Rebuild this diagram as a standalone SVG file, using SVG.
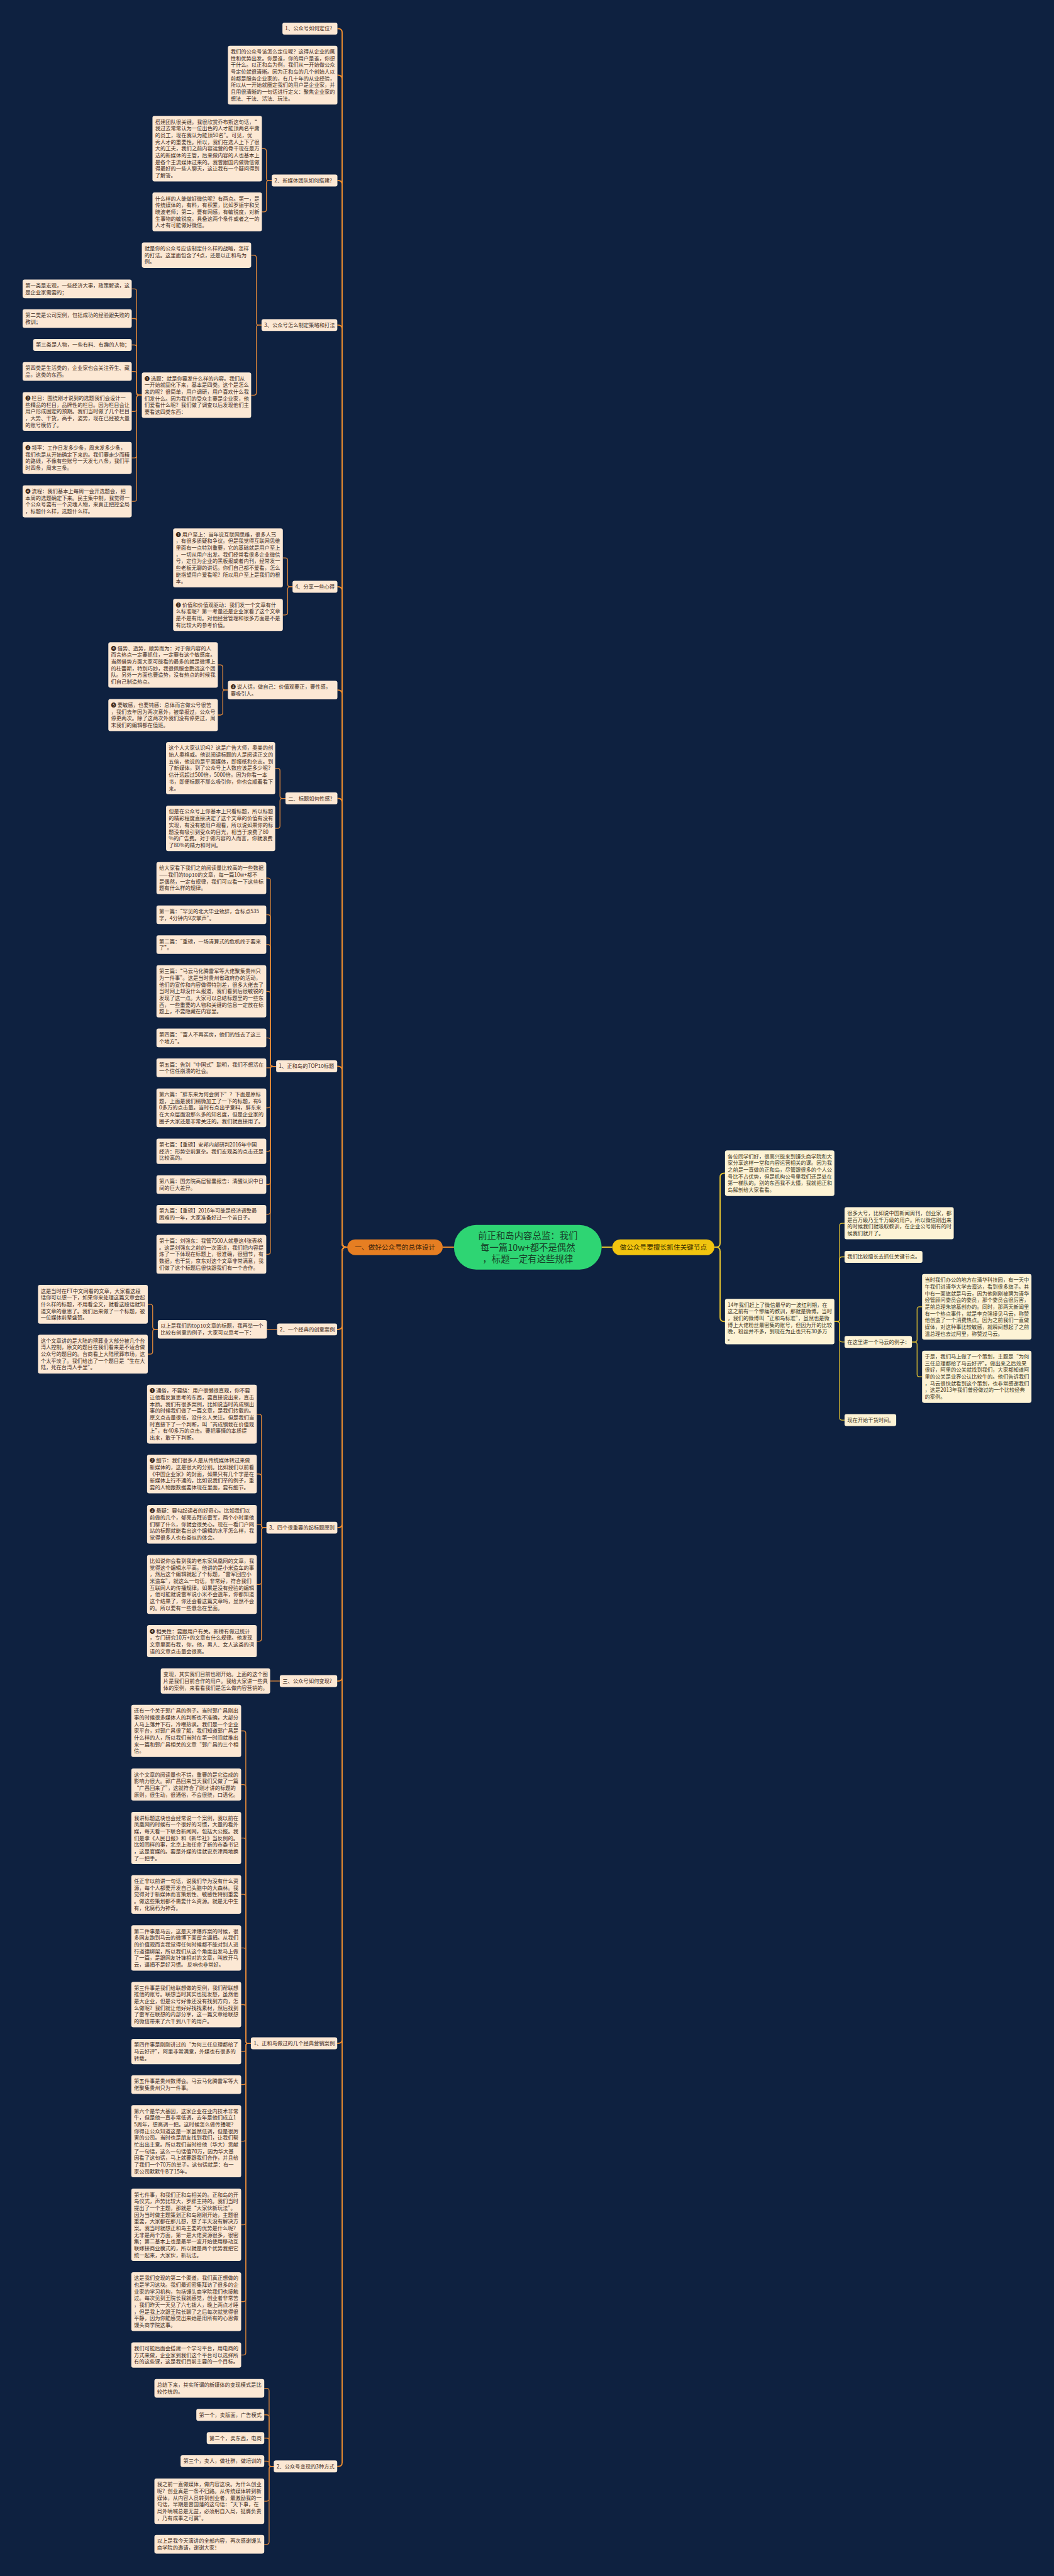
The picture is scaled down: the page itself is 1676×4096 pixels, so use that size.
<svg xmlns="http://www.w3.org/2000/svg" width="1676" height="4096" viewBox="0 0 1676 4096">
<style>
.all{font-family:"Noto Sans CJK SC","Noto Sans",sans-serif;font-size:12.7px}
.nl rect{fill:#fce8d4}
.nl text{fill:#3d2a1b}
.nr rect{fill:#fdf3d5}
.nr text{fill:#3b3322}
.cl{fill:none;stroke:#e0883a;stroke-width:2}
.ct{fill:none;stroke:#e68a30;stroke-width:3}
.cy{fill:none;stroke:#e3c230;stroke-width:2}
.cyt{fill:none;stroke:#e3c230;stroke-width:3}
</style>
<rect x="0" y="0" width="1676" height="4096" fill="#0e2140"/>
<g class="all" transform="scale(0.6547)">
<g id="connectors">
<path class="ct" d="M843.7 3029H841Q831 3029 831 3019V79.5Q831 69.5 821 69.5H819.5"/>
<path class="ct" d="M843.7 3029H841Q831 3029 831 3019V192.5Q831 182.5 821 182.5H819.5"/>
<path class="ct" d="M843.7 3029H841Q831 3029 831 3019V448.5Q831 438.5 821 438.5H819.5"/>
<path class="ct" d="M843.7 3029H841Q831 3029 831 3019V799.5Q831 789.5 821 789.5H819.2"/>
<path class="ct" d="M843.7 3029H841Q831 3029 831 3019V1435Q831 1425 821 1425H819.5"/>
<path class="ct" d="M843.7 3029H841Q831 3029 831 3019V1686Q831 1676 821 1676H819.5"/>
<path class="ct" d="M843.7 3029H841Q831 3029 831 3019V1949.2Q831 1939.2 821 1939.2H819.5"/>
<path class="ct" d="M843.7 3029H841Q831 3029 831 3019V2599.8Q831 2589.8 821 2589.8H819"/>
<path class="ct" d="M843.7 3029H841Q831 3029 831 3039V3218.8Q831 3228.8 821 3228.8H818.8"/>
<path class="ct" d="M843.7 3029H841Q831 3029 831 3039V3700.3Q831 3710.3 821 3710.3H819.3"/>
<path class="ct" d="M843.7 3029H841Q831 3029 831 3039V4072.8Q831 4082.8 821 4082.8H819"/>
<path class="ct" d="M843.7 3029H841Q831 3029 831 3039V4952.7Q831 4962.7 821 4962.7H819"/>
<path class="ct" d="M843.7 3029H841Q831 3029 831 3039V5980.3Q831 5990.3 821 5990.3H819"/>
<path class="ct" d="M1075.2 3029H1102.6"/>
<path class="cyt" d="M1461.3 3029H1487.2"/>
<path class="cyt" d="M1735 3029H1739Q1749 3029 1749 3019V2859.4Q1749 2849.4 1759 2849.4H1760.9"/>
<path class="cyt" d="M1735 3029H1739Q1749 3029 1749 3039V3199.6Q1749 3209.6 1759 3209.6H1760.9"/>
<path class="cl" d="M660 438.5H653Q647 438.5 647 432.5V367Q647 361 641 361H636.1"/>
<path class="cl" d="M660 438.5H653Q647 438.5 647 444.5V508.5Q647 514.5 641 514.5H636.1"/>
<path class="cl" d="M635.2 789.5H628.6Q622.6 789.5 622.6 783.5V625.8Q622.6 619.8 616.6 619.8H610"/>
<path class="cl" d="M635.2 789.5H628.6Q622.6 789.5 622.6 795.5V953.7Q622.6 959.7 616.6 959.7H610"/>
<path class="cl" d="M344.5 959.7H338Q332 959.7 332 953.7V707.6Q332 701.6 326 701.6H319.9"/>
<path class="cl" d="M344.5 959.7H338Q332 959.7 332 953.7V779.6Q332 773.6 326 773.6H319.9"/>
<path class="cl" d="M344.5 959.7H338Q332 959.7 332 953.7V843.8Q332 837.8 326 837.8H319.8"/>
<path class="cl" d="M344.5 959.7H338Q332 959.7 332 953.7V908.2Q332 902.2 326 902.2H319.9"/>
<path class="cl" d="M344.5 959.7H338Q332 959.7 332 965.7V993.3Q332 999.3 326 999.3H319.9"/>
<path class="cl" d="M344.5 959.7H338Q332 959.7 332 965.7V1106.2Q332 1112.2 326 1112.2H319.9"/>
<path class="cl" d="M344.5 959.7H338Q332 959.7 332 965.7V1211.6Q332 1217.6 326 1217.6H319.9"/>
<path class="cl" d="M710.5 1425H704.7Q698.7 1425 698.7 1419V1361Q698.7 1355 692.7 1355H687"/>
<path class="cl" d="M710.5 1425H704.7Q698.7 1425 698.7 1431V1487.5Q698.7 1493.5 692.7 1493.5H687"/>
<path class="cl" d="M553.5 1676H547Q541 1676 541 1670V1620.9Q541 1614.9 535 1614.9H529.1"/>
<path class="cl" d="M553.5 1676H547Q541 1676 541 1682V1730.7Q541 1736.7 535 1736.7H529.1"/>
<path class="cl" d="M693.3 1939.2H686Q680 1939.2 680 1933.2V1871.8Q680 1865.8 674 1865.8H668.4"/>
<path class="cl" d="M693.3 1939.2H686Q680 1939.2 680 1945.2V2005.9Q680 2011.9 674 2011.9H668.4"/>
<path class="cl" d="M670.7 2589.8H662.7Q656.7 2589.8 656.7 2583.8V2138.6Q656.7 2132.6 650.7 2132.6H646.7"/>
<path class="cl" d="M670.7 2589.8H662.7Q656.7 2589.8 656.7 2583.8V2227.6Q656.7 2221.6 650.7 2221.6H646.7"/>
<path class="cl" d="M670.7 2589.8H662.7Q656.7 2589.8 656.7 2583.8V2300.2Q656.7 2294.2 650.7 2294.2H646.7"/>
<path class="cl" d="M670.7 2589.8H662.7Q656.7 2589.8 656.7 2583.8V2413.7Q656.7 2407.7 650.7 2407.7H646.7"/>
<path class="cl" d="M670.7 2589.8H662.7Q656.7 2589.8 656.7 2583.8V2526.8Q656.7 2520.8 650.7 2520.8H646.7"/>
<path class="cl" d="M670.7 2589.8H658.5Q656.7 2589.8 656.7 2591.6Q656.7 2593.4 654.9 2593.4H646.7"/>
<path class="cl" d="M670.7 2589.8H662.7Q656.7 2589.8 656.7 2595.8V2684.5Q656.7 2690.5 650.7 2690.5H646.7"/>
<path class="cl" d="M670.7 2589.8H662.7Q656.7 2589.8 656.7 2595.8V2790.1Q656.7 2796.1 650.7 2796.1H646.7"/>
<path class="cl" d="M670.7 2589.8H662.7Q656.7 2589.8 656.7 2595.8V2870.9Q656.7 2876.9 650.7 2876.9H646.7"/>
<path class="cl" d="M670.7 2589.8H662.7Q656.7 2589.8 656.7 2595.8V2943.1Q656.7 2949.1 650.7 2949.1H646.7"/>
<path class="cl" d="M670.7 2589.8H662.7Q656.7 2589.8 656.7 2595.8V3040.2Q656.7 3046.2 650.7 3046.2H646.7"/>
<path class="cl" d="M673 3228.7H648.3"/>
<path class="cl" d="M383.3 3228.6H376.8Q370.8 3228.6 370.8 3222.6V3173.7Q370.8 3167.7 364.8 3167.7H359"/>
<path class="cl" d="M383.3 3228.6H376.8Q370.8 3228.6 370.8 3234.6V3282.7Q370.8 3288.7 364.8 3288.7H359"/>
<path class="cl" d="M647.1 3710.3H641Q635 3710.3 635 3704.3V3440.5Q635 3434.5 629 3434.5H623.7"/>
<path class="cl" d="M647.1 3710.3H641Q635 3710.3 635 3704.3V3585.9Q635 3579.9 629 3579.9H623.7"/>
<path class="cl" d="M647.1 3710.3H639.2Q635 3710.3 635 3706.2Q635 3702 630.8 3702H623.7"/>
<path class="cl" d="M647.1 3710.3H641Q635 3710.3 635 3716.3V3842.1Q635 3848.1 629 3848.1H623.7"/>
<path class="cl" d="M647.1 3710.3H641Q635 3710.3 635 3716.3V3979.9Q635 3985.9 629 3985.9H623.7"/>
<path class="cl" d="M679.6 4082.7H656.1"/>
<path class="cl" d="M609.3 4962.7H603Q597 4962.7 597 4956.7V4209.8Q597 4203.8 591 4203.8H585.7"/>
<path class="cl" d="M609.3 4962.7H603Q597 4962.7 597 4956.7V4340.1Q597 4334.1 591 4334.1H585.7"/>
<path class="cl" d="M609.3 4962.7H603Q597 4962.7 597 4956.7V4470Q597 4464 591 4464H585.7"/>
<path class="cl" d="M609.3 4962.7H603Q597 4962.7 597 4956.7V4606.9Q597 4600.9 591 4600.9H585.7"/>
<path class="cl" d="M609.3 4962.7H603Q597 4962.7 597 4956.7V4737Q597 4731 591 4731H585.7"/>
<path class="cl" d="M609.3 4962.7H603Q597 4962.7 597 4956.7V4874.6Q597 4868.6 591 4868.6H585.7"/>
<path class="cl" d="M609.3 4962.7H603Q597 4962.7 597 4968.7V4976.6Q597 4982.6 591 4982.6H585.7"/>
<path class="cl" d="M609.3 4962.7H603Q597 4962.7 597 4968.7V5056.8Q597 5062.8 591 5062.8H585.7"/>
<path class="cl" d="M609.3 4962.7H603Q597 4962.7 597 4968.7V5194.3Q597 5200.3 591 5200.3H585.7"/>
<path class="cl" d="M609.3 4962.7H603Q597 4962.7 597 4968.7V5397.4Q597 5403.4 591 5403.4H585.7"/>
<path class="cl" d="M609.3 4962.7H603Q597 4962.7 597 4968.7V5584Q597 5590 591 5590H585.7"/>
<path class="cl" d="M609.3 4962.7H603Q597 4962.7 597 4968.7V5713.6Q597 5719.6 591 5719.6H585.7"/>
<path class="cl" d="M665 5990.3H659.6Q653.6 5990.3 653.6 5984.3V5806.5Q653.6 5800.5 647.6 5800.5H641.8"/>
<path class="cl" d="M665 5990.3H659.6Q653.6 5990.3 653.6 5984.3V5870.9Q653.6 5864.9 647.6 5864.9H641.8"/>
<path class="cl" d="M665 5990.3H659.6Q653.6 5990.3 653.6 5984.3V5927.4Q653.6 5921.4 647.6 5921.4H641.8"/>
<path class="cl" d="M665 5990.3H659.6Q653.6 5990.3 653.6 5984.3V5983.4Q653.6 5977.4 647.6 5977.4H641.8"/>
<path class="cl" d="M665 5990.3H659.6Q653.6 5990.3 653.6 5996.3V6068.6Q653.6 6074.6 647.6 6074.6H641.8"/>
<path class="cl" d="M665 5990.3H659.6Q653.6 5990.3 653.6 5996.3V6173.3Q653.6 6179.3 647.6 6179.3H641.8"/>
<path class="cy" d="M2026.6 3209.6H2033.2Q2039.2 3209.6 2039.2 3203.6V2976.9Q2039.2 2970.9 2045.2 2970.9H2051.2"/>
<path class="cy" d="M2026.6 3209.6H2033.2Q2039.2 3209.6 2039.2 3203.6V3058.5Q2039.2 3052.5 2045.2 3052.5H2051.2"/>
<path class="cy" d="M2026.6 3209.6H2033.2Q2039.2 3209.6 2039.2 3215.6V3253.2Q2039.2 3259.2 2045.2 3259.2H2051.2"/>
<path class="cy" d="M2026.6 3209.6H2033.2Q2039.2 3209.6 2039.2 3215.6V3443Q2039.2 3449 2045.2 3449H2051.2"/>
<path class="cy" d="M2214.9 3259.2H2221.4Q2227.4 3259.2 2227.4 3253.2V3179.9Q2227.4 3173.9 2233.4 3173.9H2239.5"/>
<path class="cy" d="M2214.9 3259.2H2221.4Q2227.4 3259.2 2227.4 3265.2V3337.8Q2227.4 3343.8 2233.4 3343.8H2239.5"/>
</g>

<g id="root"><rect x="1102.6" y="2975" width="358.7" height="108.3" rx="54" fill="#2ed573"/><text x="1282" y="3009.6" text-anchor="middle" font-size="22" fill="#173f28"><tspan x="1282">前正和岛内容总监：我们</tspan><tspan x="1282" dy="28.3">每一篇10w+都不是偶然</tspan><tspan x="1282" dy="28.3">，标题一定有这些规律</tspan></text></g>
<g id="branch-left"><rect x="843.7" y="3010" width="231.5" height="38.3" rx="19.1" fill="#e67e22"/><text x="959.5" y="3034.9" text-anchor="middle" font-size="16.3" fill="#43260c">一、做好公众号的总体设计</text></g>
<g id="branch-right"><rect x="1487.2" y="3010" width="247.8" height="38.5" rx="19.2" fill="#f1c40f"/><text x="1611.1" y="3034.9" text-anchor="middle" font-size="16.3" fill="#3d3200">做公众号要擅长抓住关键节点</text></g>

<g id="n-l1" class="nl" transform="translate(686,55)"><rect width="133.5" height="28.9" rx="5"/><text x="6.5" y="19">1、公众号如何定位?</text></g>
<g id="n-a" class="nl" transform="translate(553.5,111)"><rect width="266" height="143" rx="5"/><text x="6.5" y="19"><tspan x="6.5">我们的公众号该怎么定位呢？这得从企业的属</tspan><tspan x="6.5" dy="16.3">性和优势出发。你是谁，你的用户是谁，你想</tspan><tspan x="6.5" dy="16.3">干什么。以正和岛为例，我们从一开始做公众</tspan><tspan x="6.5" dy="16.3">号定位就很清晰。因为正和岛的几个创始人以</tspan><tspan x="6.5" dy="16.3">前都是服务企业家的，有几十年的从业经验，</tspan><tspan x="6.5" dy="16.3">所以从一开始就圈定我们的用户是企业家，并</tspan><tspan x="6.5" dy="16.3">且用很清晰的一句话进行定义：聚焦企业家的</tspan><tspan x="6.5" dy="16.3">想法、干法、活法、玩法。</tspan></text></g>
<g id="n-l2" class="nl" transform="translate(660,424)"><rect width="159.5" height="28.9" rx="5"/><text x="6.5" y="19">2、新媒体团队如何搭建?</text></g>
<g id="n-2a" class="nl" transform="translate(370.3,281.3)"><rect width="265.8" height="159.3" rx="5"/><text x="6.5" y="19"><tspan x="6.5">搭建团队很关键。我很欣赏乔布斯这句话，“</tspan><tspan x="6.5" dy="16.3">我过去常常认为一位出色的人才能顶两名平庸</tspan><tspan x="6.5" dy="16.3">的员工，现在我认为能顶50名”。可见，优</tspan><tspan x="6.5" dy="16.3">秀人才的重要性。所以，我们在选人上下了很</tspan><tspan x="6.5" dy="16.3">大的工夫，我们之前内容运营的骨干现在是万</tspan><tspan x="6.5" dy="16.3">达的新媒体的主管，后来做内容的人也基本上</tspan><tspan x="6.5" dy="16.3">是各个主流媒体过来的。我曾跟国内做微信做</tspan><tspan x="6.5" dy="16.3">得最好的一些人聊天，这让我有一个疑问得到</tspan><tspan x="6.5" dy="16.3">了解答。</tspan></text></g>
<g id="n-2b" class="nl" transform="translate(370.3,467.5)"><rect width="265.8" height="94.1" rx="5"/><text x="6.5" y="19"><tspan x="6.5">什么样的人能做好微信呢？有两点。第一，是</tspan><tspan x="6.5" dy="16.3">传统媒体的，有料，有积累，比如罗振宇和吴</tspan><tspan x="6.5" dy="16.3">晓波老师；第二，要有网感，有敏锐度，对新</tspan><tspan x="6.5" dy="16.3">生事物的敏锐度。具备这两个条件或者之一的</tspan><tspan x="6.5" dy="16.3">人才有可能做好微信。</tspan></text></g>
<g id="n-l3" class="nl" transform="translate(635.2,775)"><rect width="184" height="28.9" rx="5"/><text x="6.5" y="19">3、公众号怎么制定策略和打法</text></g>
<g id="n-3a" class="nl" transform="translate(344.5,589)"><rect width="265.5" height="61.5" rx="5"/><text x="6.5" y="19"><tspan x="6.5">就是你的公众号应该制定什么样的战略，怎样</tspan><tspan x="6.5" dy="16.3">的打法。这里面包含了4点，还是以正和岛为</tspan><tspan x="6.5" dy="16.3">例。</tspan></text></g>
<g id="n-3b" class="nl" transform="translate(344.5,904.5)"><rect width="265.5" height="110.4" rx="5"/><text x="6.5" y="19"><tspan x="6.5">❶ 选题：就是你要发什么样的内容。我们从</tspan><tspan x="6.5" dy="16.3">一开始就固化下来，基本是四类。这个是怎么</tspan><tspan x="6.5" dy="16.3">来的呢？很简单，用户调研，用户喜欢什么我</tspan><tspan x="6.5" dy="16.3">们发什么。因为我们的受众主要是企业家，他</tspan><tspan x="6.5" dy="16.3">们爱看什么呢？我们做了调查以后发现他们主</tspan><tspan x="6.5" dy="16.3">要看这四类东西：</tspan></text></g>
<g id="n-3b1" class="nl" transform="translate(54.9,679)"><rect width="265" height="45.2" rx="5"/><text x="6.5" y="19"><tspan x="6.5">第一类是宏观，一些经济大事，政策解读，这</tspan><tspan x="6.5" dy="16.3">是企业家需要的；</tspan></text></g>
<g id="n-3b2" class="nl" transform="translate(54.9,751)"><rect width="265" height="45.2" rx="5"/><text x="6.5" y="19"><tspan x="6.5">第二类是公司案例，包括成功的经验跟失败的</tspan><tspan x="6.5" dy="16.3">教训；</tspan></text></g>
<g id="n-3b3" class="nl" transform="translate(80.6,823.3)"><rect width="239.2" height="28.9" rx="5"/><text x="6.5" y="19">第三类是人物，一些有料、有趣的人物；</text></g>
<g id="n-3b4" class="nl" transform="translate(54.9,879.6)"><rect width="265" height="45.2" rx="5"/><text x="6.5" y="19"><tspan x="6.5">第四类是生活类的，企业家也会关注养生、藏</tspan><tspan x="6.5" dy="16.3">品，这类的东西。</tspan></text></g>
<g id="n-3b5" class="nl" transform="translate(54.9,952.3)"><rect width="265" height="94.1" rx="5"/><text x="6.5" y="19"><tspan x="6.5">❷ 栏目：围绕刚才说到的选题我们会设计一</tspan><tspan x="6.5" dy="16.3">些精品的栏目，品牌性的栏目。因为栏目会让</tspan><tspan x="6.5" dy="16.3">用户形成固定的预期。我们当时做了几个栏目</tspan><tspan x="6.5" dy="16.3">，大势、干货，高手，姿势，现在已经被大量</tspan><tspan x="6.5" dy="16.3">的账号模仿了。</tspan></text></g>
<g id="n-3b6" class="nl" transform="translate(54.9,1073.3)"><rect width="265" height="77.8" rx="5"/><text x="6.5" y="19"><tspan x="6.5">❸ 频率：工作日发多少条，周末发多少条，</tspan><tspan x="6.5" dy="16.3">我们也是从开始确定下来的。我们要走少而精</tspan><tspan x="6.5" dy="16.3">的路线，不像有些账号一天发七八条，我们平</tspan><tspan x="6.5" dy="16.3">时四条，周末三条。</tspan></text></g>
<g id="n-3b7" class="nl" transform="translate(54.9,1178.7)"><rect width="265" height="77.8" rx="5"/><text x="6.5" y="19"><tspan x="6.5">❹ 流程：我们基本上每周一会开选题会，把</tspan><tspan x="6.5" dy="16.3">本周的选题确定下来。民主集中制，我觉得一</tspan><tspan x="6.5" dy="16.3">个公众号要有一个灵魂人物，来真正把控全局</tspan><tspan x="6.5" dy="16.3">，标题什么样，选题什么样。</tspan></text></g>
<g id="n-l4" class="nl" transform="translate(710.5,1410.6)"><rect width="109" height="28.9" rx="5"/><text x="6.5" y="19">4、分享一些心得</text></g>
<g id="n-4a" class="nl" transform="translate(420.5,1283.5)"><rect width="266.5" height="143" rx="5"/><text x="6.5" y="19"><tspan x="6.5">❶ 用户至上：当年说互联网思维，很多人骂</tspan><tspan x="6.5" dy="16.3">，有很多质疑和争议。但是我觉得互联网思维</tspan><tspan x="6.5" dy="16.3">里面有一点特别重要，它的基础就是用户至上</tspan><tspan x="6.5" dy="16.3">，一切从用户出发。我们经常看很多企业微信</tspan><tspan x="6.5" dy="16.3">号，定位为企业的黑板报或者内刊，经常发一</tspan><tspan x="6.5" dy="16.3">些老板无聊的讲话。你们自己都不爱看，怎么</tspan><tspan x="6.5" dy="16.3">能指望用户爱看呢？所以用户至上是我们的根</tspan><tspan x="6.5" dy="16.3">本。</tspan></text></g>
<g id="n-4b" class="nl" transform="translate(420.5,1454.6)"><rect width="266.5" height="77.8" rx="5"/><text x="6.5" y="19"><tspan x="6.5">❷ 价值和价值观驱动：我们发一个文章有什</tspan><tspan x="6.5" dy="16.3">么标准呢？第一考量还是企业家看了这个文章</tspan><tspan x="6.5" dy="16.3">是不是有用。对他经营管理和很多方面是不是</tspan><tspan x="6.5" dy="16.3">有比较大的参考价值。</tspan></text></g>
<g id="n-n3" class="nl" transform="translate(553.5,1653.3)"><rect width="266" height="45.2" rx="5"/><text x="6.5" y="19"><tspan x="6.5">❸ 说人话，做自己：价值观要正，要性感，</tspan><tspan x="6.5" dy="16.3">要吸引人。</tspan></text></g>
<g id="n-4c" class="nl" transform="translate(263.1,1559.7)"><rect width="266" height="110.4" rx="5"/><text x="6.5" y="19"><tspan x="6.5">❹ 借势、造势，顺势而为：对于做内容的人</tspan><tspan x="6.5" dy="16.3">而言热点一定要抓住，一定要有这个敏感度。</tspan><tspan x="6.5" dy="16.3">当然借势方面大家可能看的最多的就是微博上</tspan><tspan x="6.5" dy="16.3">的杜蕾斯，特别巧妙，我很佩服金鹏远这个团</tspan><tspan x="6.5" dy="16.3">队。另外一方面也要造势，没有热点的时候我</tspan><tspan x="6.5" dy="16.3">们自己制造热点。</tspan></text></g>
<g id="n-4d" class="nl" transform="translate(263.1,1697.8)"><rect width="266" height="77.8" rx="5"/><text x="6.5" y="19"><tspan x="6.5">❺ 要敏感，也要钝感：总体而言做公号很苦</tspan><tspan x="6.5" dy="16.3">，我们去年因为两次意外，被举报过，公众号</tspan><tspan x="6.5" dy="16.3">停更两次。除了这两次外我们没有停更过，周</tspan><tspan x="6.5" dy="16.3">末我们的编辑都在值班。</tspan></text></g>
<g id="n-l5" class="nl" transform="translate(693.3,1924.7)"><rect width="126.2" height="28.9" rx="5"/><text x="6.5" y="19">二、标题如何性感?</text></g>
<g id="n-5a" class="nl" transform="translate(403.3,1802.4)"><rect width="265.1" height="126.7" rx="5"/><text x="6.5" y="19"><tspan x="6.5">这个人大家认识吗？这是广告大师，奥美的创</tspan><tspan x="6.5" dy="16.3">始人奥格威。他说阅读标题的人是阅读正文的</tspan><tspan x="6.5" dy="16.3">五倍，他说的是平面媒体，即报纸和杂志。到</tspan><tspan x="6.5" dy="16.3">了新媒体，到了公众号上人数应该是多少呢？</tspan><tspan x="6.5" dy="16.3">估计远超过500倍，5000倍。因为你看一本</tspan><tspan x="6.5" dy="16.3">书，即便标题不那么吸引你，你也会顺着看下</tspan><tspan x="6.5" dy="16.3">来。</tspan></text></g>
<g id="n-5b" class="nl" transform="translate(403.3,1956.7)"><rect width="265.1" height="110.4" rx="5"/><text x="6.5" y="19"><tspan x="6.5">但是在公众号上你基本上只看标题，所以标题</tspan><tspan x="6.5" dy="16.3">的精彩程度直接决定了这个文章的价值有没有</tspan><tspan x="6.5" dy="16.3">实现，有没有被用户观看，所以说如果你的标</tspan><tspan x="6.5" dy="16.3">题没有吸引到受众的目光，相当于浪费了80</tspan><tspan x="6.5" dy="16.3">%的广告费。对于做内容的人而言，你就浪费</tspan><tspan x="6.5" dy="16.3">了80%的精力和时间。</tspan></text></g>
<g id="n-l6" class="nl" transform="translate(670.7,2575.3)"><rect width="148.3" height="28.9" rx="5"/><text x="6.5" y="19">1、正和岛的TOP10标题</text></g>
<g id="n-6a" class="nl" transform="translate(380,2093.7)"><rect width="266.7" height="77.8" rx="5"/><text x="6.5" y="19"><tspan x="6.5">给大家看下我们之前阅读量比较高的一些数据</tspan><tspan x="6.5" dy="16.3">——我们的top10的文章，每一篇10w+都不</tspan><tspan x="6.5" dy="16.3">是偶然，一定有规律，我们可以看一下这些标</tspan><tspan x="6.5" dy="16.3">题有什么样的规律。</tspan></text></g>
<g id="n-6b" class="nl" transform="translate(380,2199)"><rect width="266.7" height="45.2" rx="5"/><text x="6.5" y="19"><tspan x="6.5">第一篇：“罕见的北大毕业致辞，含标点535</tspan><tspan x="6.5" dy="16.3">字，4分钟内9次掌声”。</tspan></text></g>
<g id="n-6c" class="nl" transform="translate(380,2271.6)"><rect width="266.7" height="45.2" rx="5"/><text x="6.5" y="19"><tspan x="6.5">第二篇：“重磅，一场清算式的危机终于要来</tspan><tspan x="6.5" dy="16.3">了”。</tspan></text></g>
<g id="n-6d" class="nl" transform="translate(380,2344.3)"><rect width="266.7" height="126.7" rx="5"/><text x="6.5" y="19"><tspan x="6.5">第三篇：“马云马化腾雷军等大佬聚集贵州只</tspan><tspan x="6.5" dy="16.3">为一件事”。这是当时贵州省政府办的活动，</tspan><tspan x="6.5" dy="16.3">他们的宣传和内容做得特别差，很多大佬去了</tspan><tspan x="6.5" dy="16.3">当时网上却没什么报道，我们看到后很敏锐的</tspan><tspan x="6.5" dy="16.3">发现了这一点。大家可以总结标题里的一些东</tspan><tspan x="6.5" dy="16.3">西，一些重要的人物和关键的信息一定放在标</tspan><tspan x="6.5" dy="16.3">题上，不要隐藏在内容里。</tspan></text></g>
<g id="n-6e" class="nl" transform="translate(380,2498.2)"><rect width="266.7" height="45.2" rx="5"/><text x="6.5" y="19"><tspan x="6.5">第四篇：“富人不再买房，他们的钱去了这三</tspan><tspan x="6.5" dy="16.3">个地方”。</tspan></text></g>
<g id="n-6f" class="nl" transform="translate(380,2570.8)"><rect width="266.7" height="45.2" rx="5"/><text x="6.5" y="19"><tspan x="6.5">第五篇：告别“中国式”聪明，我们不想活在</tspan><tspan x="6.5" dy="16.3">一个信任崩溃的社会。</tspan></text></g>
<g id="n-6g" class="nl" transform="translate(380,2643.5)"><rect width="266.7" height="94.1" rx="5"/><text x="6.5" y="19"><tspan x="6.5">第六篇：“胖东来为何会倒下”？下面是原标</tspan><tspan x="6.5" dy="16.3">题，上面是我们稍微加工了一下的标题，有6</tspan><tspan x="6.5" dy="16.3">0多万的点击量。当时有点出乎意料，胖东来</tspan><tspan x="6.5" dy="16.3">在大众层面没那么多的知名度，但是企业家的</tspan><tspan x="6.5" dy="16.3">圈子大家还是非常关注的。我们就直接用了。</tspan></text></g>
<g id="n-6h" class="nl" transform="translate(380,2765.3)"><rect width="266.7" height="61.5" rx="5"/><text x="6.5" y="19"><tspan x="6.5">第七篇：【重磅】安邦内部研判2016年中国</tspan><tspan x="6.5" dy="16.3">经济：形势空前复杂。我们宏观类的点击还是</tspan><tspan x="6.5" dy="16.3">比较高的。</tspan></text></g>
<g id="n-6i" class="nl" transform="translate(380,2854.3)"><rect width="266.7" height="45.2" rx="5"/><text x="6.5" y="19"><tspan x="6.5">第八篇：国务院高层智囊报告：清醒认识中日</tspan><tspan x="6.5" dy="16.3">间的巨大差异。</tspan></text></g>
<g id="n-6j" class="nl" transform="translate(380,2926.5)"><rect width="266.7" height="45.2" rx="5"/><text x="6.5" y="19"><tspan x="6.5">第九篇：【重磅】2016年可能是经济调整最</tspan><tspan x="6.5" dy="16.3">困难的一年，大家准备好过一个苦日子。</tspan></text></g>
<g id="n-6k" class="nl" transform="translate(380,2999.2)"><rect width="266.7" height="94.1" rx="5"/><text x="6.5" y="19"><tspan x="6.5">第十篇：刘强东：我管7500人就靠这4张表格</tspan><tspan x="6.5" dy="16.3">。这是刘强东之前的一次演讲，我们把内容提</tspan><tspan x="6.5" dy="16.3">炼了一下体现在标题上，很准确，很细节，有</tspan><tspan x="6.5" dy="16.3">数据，也干货，京东对这个文章非常满意，我</tspan><tspan x="6.5" dy="16.3">们做了这个标题后很快跟我们有一个合作。</tspan></text></g>
<g id="n-l7" class="nl" transform="translate(673,3214.3)"><rect width="145.8" height="28.9" rx="5"/><text x="6.5" y="19">2、一个经典的创意案例</text></g>
<g id="n-7a" class="nl" transform="translate(383.3,3206)"><rect width="265" height="45.2" rx="5"/><text x="6.5" y="19"><tspan x="6.5">以上是我们的top10文章的标题，我再举一个</tspan><tspan x="6.5" dy="16.3">比较有创意的例子，大家可以思考一下：</tspan></text></g>
<g id="n-7b" class="nl" transform="translate(92.3,3120.7)"><rect width="266.7" height="94.1" rx="5"/><text x="6.5" y="19"><tspan x="6.5">这是当时在FT中文网看的文章，大家看这段</tspan><tspan x="6.5" dy="16.3">话你可以想一下，如果你来处理这篇文章会起</tspan><tspan x="6.5" dy="16.3">什么样的标题，不用看全文，就看这段话就知</tspan><tspan x="6.5" dy="16.3">道文章的意思了。我们后来做了一个标题，被</tspan><tspan x="6.5" dy="16.3">一位媒体前辈盛赞。</tspan></text></g>
<g id="n-7c" class="nl" transform="translate(92.3,3241.7)"><rect width="266.7" height="94.1" rx="5"/><text x="6.5" y="19"><tspan x="6.5">这个文章讲的是大陆的殡葬业大部分被几个台</tspan><tspan x="6.5" dy="16.3">湾人控制，原文的题目在我们看来是不适合做</tspan><tspan x="6.5" dy="16.3">公众号的题目的。台商看上大陆殡葬市场，这</tspan><tspan x="6.5" dy="16.3">个太平淡了。我们给出了一个题目是“生在大</tspan><tspan x="6.5" dy="16.3">陆，死在台湾人手里”。</tspan></text></g>
<g id="n-l8" class="nl" transform="translate(647.1,3695.8)"><rect width="172.2" height="28.9" rx="5"/><text x="6.5" y="19">3、四个很重要的起标题原则</text></g>
<g id="n-8a" class="nl" transform="translate(357.2,3363)"><rect width="266.5" height="143" rx="5"/><text x="6.5" y="19"><tspan x="6.5">❶ 通俗，不要绕：用户很懒很直观，你不要</tspan><tspan x="6.5" dy="16.3">让他看反复思考的东西，要直接说出来，直击</tspan><tspan x="6.5" dy="16.3">本质。我们有很多案例，比如说当时芮成钢出</tspan><tspan x="6.5" dy="16.3">事的时候我们做了一篇文章，是我们转载的。</tspan><tspan x="6.5" dy="16.3">原文点击量很低，没什么人关注。但是我们当</tspan><tspan x="6.5" dy="16.3">时直接下了一个判断，叫“芮成钢栽在价值观</tspan><tspan x="6.5" dy="16.3">上”，有40多万的点击。要把事情的本质提</tspan><tspan x="6.5" dy="16.3">出来，敢于下判断。</tspan></text></g>
<g id="n-8b" class="nl" transform="translate(357.2,3532.8)"><rect width="266.5" height="94.1" rx="5"/><text x="6.5" y="19"><tspan x="6.5">❷ 细节：我们很多人是从传统媒体转过来做</tspan><tspan x="6.5" dy="16.3">新媒体的，这是很大的分别。比如我们以前看</tspan><tspan x="6.5" dy="16.3">《中国企业家》的封面，如果只有几个字是在</tspan><tspan x="6.5" dy="16.3">新媒体上行不通的，比如说我们举的例子，重</tspan><tspan x="6.5" dy="16.3">要的人物跟数据要体现在里面，要有细节。</tspan></text></g>
<g id="n-8c" class="nl" transform="translate(357.2,3655)"><rect width="266.5" height="94.1" rx="5"/><text x="6.5" y="19"><tspan x="6.5">❸ 悬疑：要勾起读者的好奇心。比如我们以</tspan><tspan x="6.5" dy="16.3">前做的几个，郁亮去拜访雷军，两个小时里他</tspan><tspan x="6.5" dy="16.3">们聊了什么，你就会很关心。现在一看门户网</tspan><tspan x="6.5" dy="16.3">站的标题就能看出这个编辑的水平怎么样，我</tspan><tspan x="6.5" dy="16.3">觉得很多人也有类似的体会。</tspan></text></g>
<g id="n-8d" class="nl" transform="translate(357.2,3776.6)"><rect width="266.5" height="143" rx="5"/><text x="6.5" y="19"><tspan x="6.5">比如说你会看到我的老东家凤凰网的文章，我</tspan><tspan x="6.5" dy="16.3">觉得这个编辑水平高。他讲的是小米造车的事</tspan><tspan x="6.5" dy="16.3">，然后这个编辑就起了个标题，“雷军回应小</tspan><tspan x="6.5" dy="16.3">米造车”，就这么一句话，非常好，符合我们</tspan><tspan x="6.5" dy="16.3">互联网人的传播规律。如果是没有经验的编辑</tspan><tspan x="6.5" dy="16.3">，他可能就说雷军说小米不会造车，你都知道</tspan><tspan x="6.5" dy="16.3">这个结果了，你还会看这篇文章吗，显然不会</tspan><tspan x="6.5" dy="16.3">的。所以要有一些悬念在里面。</tspan></text></g>
<g id="n-8e" class="nl" transform="translate(357.2,3947)"><rect width="266.5" height="77.8" rx="5"/><text x="6.5" y="19"><tspan x="6.5">❹ 相关性：要跟用户有关。新榜有做过统计</tspan><tspan x="6.5" dy="16.3">，专门研究10万+的文章有什么规律。他发现</tspan><tspan x="6.5" dy="16.3">文章里面有我，你，他，男人、女人这类的词</tspan><tspan x="6.5" dy="16.3">语的文章点击量会很高。</tspan></text></g>
<g id="n-l9" class="nl" transform="translate(679.6,4068.3)"><rect width="139.4" height="28.9" rx="5"/><text x="6.5" y="19">三、公众号如何变现?</text></g>
<g id="n-9a" class="nl" transform="translate(390.4,4051.9)"><rect width="265.7" height="61.5" rx="5"/><text x="6.5" y="19"><tspan x="6.5">变现，其实我们目前也刚开始。上面的这个图</tspan><tspan x="6.5" dy="16.3">片是我们目前合作的用户。我给大家讲一些具</tspan><tspan x="6.5" dy="16.3">体的案例，来看看我们是怎么做内容营销的。</tspan></text></g>
<g id="n-l10" class="nl" transform="translate(609.3,4948.2)"><rect width="209.7" height="28.9" rx="5"/><text x="6.5" y="19">1、正和岛做过的几个经典营销案例</text></g>
<g id="n-10a" class="nl" transform="translate(318.9,4140.4)"><rect width="266.8" height="126.7" rx="5"/><text x="6.5" y="19"><tspan x="6.5">还有一个关于郭广昌的例子。当时郭广昌刚出</tspan><tspan x="6.5" dy="16.3">事的时候很多媒体人的判断也不准确，大部分</tspan><tspan x="6.5" dy="16.3">人马上落井下石，冷嘲热讽。我们是一个企业</tspan><tspan x="6.5" dy="16.3">家平台，对郭广昌很了解，我们知道郭广昌是</tspan><tspan x="6.5" dy="16.3">什么样的人，所以我们当时在第一时间就推出</tspan><tspan x="6.5" dy="16.3">来一篇和郭广昌相关的文章“郭广昌的三个相</tspan><tspan x="6.5" dy="16.3">信。</tspan></text></g>
<g id="n-10b" class="nl" transform="translate(318.9,4295.2)"><rect width="266.8" height="77.8" rx="5"/><text x="6.5" y="19"><tspan x="6.5">这个文章的阅读量也不错，重要的是它造成的</tspan><tspan x="6.5" dy="16.3">影响力很大。郭广昌回来当天我们又做了一篇</tspan><tspan x="6.5" dy="16.3">“广昌回来了”，这就符合了刚才讲的标题的</tspan><tspan x="6.5" dy="16.3">原则，很生动，很通俗，不会很绕，口语化。</tspan></text></g>
<g id="n-10c" class="nl" transform="translate(318.9,4400.6)"><rect width="266.8" height="126.7" rx="5"/><text x="6.5" y="19"><tspan x="6.5">我讲标题这块也会经常说一个案例，我以前在</tspan><tspan x="6.5" dy="16.3">凤凰网的时候有一个很好的习惯，大量的看外</tspan><tspan x="6.5" dy="16.3">媒，每天看一下联合新闻网，包括大公报。我</tspan><tspan x="6.5" dy="16.3">们是拿《人民日报》和《新华社》当反例的。</tspan><tspan x="6.5" dy="16.3">比如同样的事，北京上海任命了新的市委书记</tspan><tspan x="6.5" dy="16.3">，这是官媒的。要是外媒的话就说京津两地换</tspan><tspan x="6.5" dy="16.3">了一把手。</tspan></text></g>
<g id="n-10d" class="nl" transform="translate(318.9,4553.9)"><rect width="266.8" height="94.1" rx="5"/><text x="6.5" y="19"><tspan x="6.5">任正非以前讲一句话，说我们华为没有什么资</tspan><tspan x="6.5" dy="16.3">源，每个人都要开发自己头脑中的大森林。我</tspan><tspan x="6.5" dy="16.3">觉得对于新媒体而言策划性、敏感性特别重要</tspan><tspan x="6.5" dy="16.3">。做这些策划都不需要什么资源。就是无中生</tspan><tspan x="6.5" dy="16.3">有，化腐朽为神奇。</tspan></text></g>
<g id="n-10e" class="nl" transform="translate(318.9,4675.8)"><rect width="266.8" height="110.4" rx="5"/><text x="6.5" y="19"><tspan x="6.5">第二件事是马云，这是天津爆炸案的时候，很</tspan><tspan x="6.5" dy="16.3">多网友跑到马云的微博下面留言逼捐。从我们</tspan><tspan x="6.5" dy="16.3">的价值观而言我觉得任何时候都不能对别人进</tspan><tspan x="6.5" dy="16.3">行道德绑架，所以我们从这个角度出发马上做</tspan><tspan x="6.5" dy="16.3">了一篇，是跟网友针锋相对的文章，叫放开马</tspan><tspan x="6.5" dy="16.3">云，逼捐不是好习惯。 反响也非常好。</tspan></text></g>
<g id="n-10f" class="nl" transform="translate(318.9,4813.4)"><rect width="266.8" height="110.4" rx="5"/><text x="6.5" y="19"><tspan x="6.5">第三件事是我们给联想做的案例，我们帮联想</tspan><tspan x="6.5" dy="16.3">推他的账号。联想当时其实也挺发愁，虽然他</tspan><tspan x="6.5" dy="16.3">是大企业，但是公号好像还没有找到方向，怎</tspan><tspan x="6.5" dy="16.3">么做呢？我们就让他好好找找素材，然后找到</tspan><tspan x="6.5" dy="16.3">了雷军在联想的内部分享，这一篇文章给联想</tspan><tspan x="6.5" dy="16.3">的微信带来了六千到八千的用户。</tspan></text></g>
<g id="n-10g" class="nl" transform="translate(318.9,4951.8)"><rect width="266.8" height="61.5" rx="5"/><text x="6.5" y="19"><tspan x="6.5">第四件事是刚刚讲过的“为何三任总理都给了</tspan><tspan x="6.5" dy="16.3">马云好评”，阿里非常满意，外媒也有很多的</tspan><tspan x="6.5" dy="16.3">转载。</tspan></text></g>
<g id="n-10h" class="nl" transform="translate(318.9,5040.2)"><rect width="266.8" height="45.2" rx="5"/><text x="6.5" y="19"><tspan x="6.5">第五件事是贵州数博会。马云马化腾雷军等大</tspan><tspan x="6.5" dy="16.3">佬聚集贵州只为一件事。</tspan></text></g>
<g id="n-10i" class="nl" transform="translate(318.9,5112.5)"><rect width="266.8" height="175.6" rx="5"/><text x="6.5" y="19"><tspan x="6.5">第六个是华大基因，这家企业在业内技术非常</tspan><tspan x="6.5" dy="16.3">牛，但是他一直非常低调，去年是他们成立1</tspan><tspan x="6.5" dy="16.3">5周年，想高调一把。这时候怎么做传播呢？</tspan><tspan x="6.5" dy="16.3">你得让公众知道这是一家虽然低调，但是很厉</tspan><tspan x="6.5" dy="16.3">害的公司。当时也是朋友找到我们，让我们帮</tspan><tspan x="6.5" dy="16.3">忙出出主意。所以我们当时给他（华大）贡献</tspan><tspan x="6.5" dy="16.3">了一句话，这么一句话值70万，因为华大基</tspan><tspan x="6.5" dy="16.3">因看了这句话，马上就要跟我们合作，并且给</tspan><tspan x="6.5" dy="16.3">了我们一个70万的单子。这句话就是：有一</tspan><tspan x="6.5" dy="16.3">家公司默默牛B了15年。</tspan></text></g>
<g id="n-10j" class="nl" transform="translate(318.9,5315.6)"><rect width="266.8" height="175.6" rx="5"/><text x="6.5" y="19"><tspan x="6.5">第七件事，和我们正和岛相关的。正和岛的开</tspan><tspan x="6.5" dy="16.3">岛仪式，声势比较大，罗胖主持的。我们当时</tspan><tspan x="6.5" dy="16.3">提出了一个主题，那就是“大家伙新玩法”。</tspan><tspan x="6.5" dy="16.3">因为当时做主题策划正和岛刚刚开始，主题很</tspan><tspan x="6.5" dy="16.3">重要，大家都在那儿想，想了半天没有解决方</tspan><tspan x="6.5" dy="16.3">案。我当时就想正和岛主要的优势是什么呢？</tspan><tspan x="6.5" dy="16.3">无非是两个方面，第一是大佬资源很多，很密</tspan><tspan x="6.5" dy="16.3">集；第二基本上也是最早一波开始使用移动互</tspan><tspan x="6.5" dy="16.3">联嫁接商业模式的，所以就是两个优势我把它</tspan><tspan x="6.5" dy="16.3">统一起来，大家伙，新玩法。</tspan></text></g>
<g id="n-10k" class="nl" transform="translate(318.9,5518.5)"><rect width="266.8" height="143" rx="5"/><text x="6.5" y="19"><tspan x="6.5">这是我们变现的第二个渠道，我们真正想做的</tspan><tspan x="6.5" dy="16.3">也是学习这块。我们最近密集拜访了很多的企</tspan><tspan x="6.5" dy="16.3">业家的学习机构，包括馒头商学院我们也接触</tspan><tspan x="6.5" dy="16.3">过。每次见到王院长我就感觉，创业者非常苦</tspan><tspan x="6.5" dy="16.3">，我们昨天一天见了六七拨人，晚上两点才睡</tspan><tspan x="6.5" dy="16.3">，但是我上次跟王院长聊了之后每次就觉得很</tspan><tspan x="6.5" dy="16.3">平静，因为你能感觉出来她是用所有的心思做</tspan><tspan x="6.5" dy="16.3">馒头商学院这事。</tspan></text></g>
<g id="n-10l" class="nl" transform="translate(318.9,5688.8)"><rect width="266.8" height="61.5" rx="5"/><text x="6.5" y="19"><tspan x="6.5">我们可能后面会搭建一个学习平台，用电商的</tspan><tspan x="6.5" dy="16.3">方式来做，企业家到我们这个平台可以选择所</tspan><tspan x="6.5" dy="16.3">有的这些课，这是我们目前主要的一个目标。</tspan></text></g>
<g id="n-l11" class="nl" transform="translate(665,5975.8)"><rect width="154" height="28.9" rx="5"/><text x="6.5" y="19">2、公众号变现的3种方式</text></g>
<g id="n-11a" class="nl" transform="translate(375,5777.9)"><rect width="266.8" height="45.2" rx="5"/><text x="6.5" y="19"><tspan x="6.5">总结下来，其实所谓的新媒体的变现模式是比</tspan><tspan x="6.5" dy="16.3">较传统的。</tspan></text></g>
<g id="n-11b" class="nl" transform="translate(476.8,5850.4)"><rect width="165" height="28.9" rx="5"/><text x="6.5" y="19">第一个，卖版面，广告模式</text></g>
<g id="n-11c" class="nl" transform="translate(502.1,5906.9)"><rect width="139.7" height="28.9" rx="5"/><text x="6.5" y="19">第二个，卖东西，电商</text></g>
<g id="n-11d" class="nl" transform="translate(438.6,5962.9)"><rect width="203.2" height="28.9" rx="5"/><text x="6.5" y="19">第三个，卖人，做社群，做培训的</text></g>
<g id="n-11e" class="nl" transform="translate(375,6019.4)"><rect width="266.8" height="110.4" rx="5"/><text x="6.5" y="19"><tspan x="6.5">我之前一直做媒体，做内容这块。为什么创业</tspan><tspan x="6.5" dy="16.3">呢？创业真是一条不归路。从传统媒体转到新</tspan><tspan x="6.5" dy="16.3">媒体，从内容人员转到创业者，最激励我的一</tspan><tspan x="6.5" dy="16.3">句话，早期是曾国藩的这句话：“天下事，在</tspan><tspan x="6.5" dy="16.3">局外呐喊总是无益，必须躬自入局，挺膺负责</tspan><tspan x="6.5" dy="16.3">，乃有成事之可冀”。</tspan></text></g>
<g id="n-11f" class="nl" transform="translate(375,6156.7)"><rect width="266.8" height="45.2" rx="5"/><text x="6.5" y="19"><tspan x="6.5">以上是我今天演讲的全部内容，再次感谢馒头</tspan><tspan x="6.5" dy="16.3">商学院的邀请，谢谢大家！</tspan></text></g>

<g id="n-r1" class="nr" transform="translate(1760.9,2794.2)"><rect width="265.7" height="110.4" rx="5"/><text x="6.5" y="19"><tspan x="6.5">各位同学们好，很高兴能来到馒头商学院和大</tspan><tspan x="6.5" dy="16.3">家分享这样一堂和内容运营相关的课。因为我</tspan><tspan x="6.5" dy="16.3">之前是一直做的正和岛，尽管跟很多的个人公</tspan><tspan x="6.5" dy="16.3">号比不占优势，但是机构公号里我们还是处在</tspan><tspan x="6.5" dy="16.3">第一梯队的。别的东西我不太懂，我就把正和</tspan><tspan x="6.5" dy="16.3">岛解剖给大家看看。</tspan></text></g>
<g id="n-r2" class="nr" transform="translate(1760.9,3154.4)"><rect width="265.7" height="110.4" rx="5"/><text x="6.5" y="19"><tspan x="6.5">14年我们赶上了微信最早的一波红利期，在</tspan><tspan x="6.5" dy="16.3">这之前有一个惨痛的教训，那就是微博。当时</tspan><tspan x="6.5" dy="16.3">，我们的微博叫“正和岛标准”，虽然也是微</tspan><tspan x="6.5" dy="16.3">博上大佬粉丝最密集的账号，但因为开的比较</tspan><tspan x="6.5" dy="16.3">晚，粉丝并不多，到现在为止也只有30多万</tspan><tspan x="6.5" dy="16.3">。</tspan></text></g>
<g id="n-r2a" class="nr" transform="translate(2051.2,2932)"><rect width="265.2" height="77.8" rx="5"/><text x="6.5" y="19"><tspan x="6.5">很多大号，比如说中国新闻周刊，创业家，都</tspan><tspan x="6.5" dy="16.3">是百万级乃至千万级的用户。所以微信刚出来</tspan><tspan x="6.5" dy="16.3">的时候我们就吸取教训，在企业公号刚有的时</tspan><tspan x="6.5" dy="16.3">候我们就开了。</tspan></text></g>
<g id="n-r2b" class="nr" transform="translate(2051.2,3038)"><rect width="189.3" height="28.9" rx="5"/><text x="6.5" y="19">我们比较擅长去抓住关键节点。</text></g>
<g id="n-r2c" class="nr" transform="translate(2051.2,3244.7)"><rect width="163.7" height="28.9" rx="5"/><text x="6.5" y="19">在这里讲一个马云的例子：</text></g>
<g id="n-r2d" class="nr" transform="translate(2051.2,3434.5)"><rect width="125.5" height="28.9" rx="5"/><text x="6.5" y="19">现在开始干货时间。</text></g>
<g id="n-r2c1" class="nr" transform="translate(2239.5,3094.2)"><rect width="265.7" height="159.3" rx="5"/><text x="6.5" y="19"><tspan x="6.5">当时我们办公的地方在清华科技园，有一天中</tspan><tspan x="6.5" dy="16.3">午我们进清华大学去溜达，看到很多旗子。其</tspan><tspan x="6.5" dy="16.3">中有一面旗就是马云，因为他刚刚被聘为清华</tspan><tspan x="6.5" dy="16.3">经管顾问委员会的委员，那个委员会很厉害，</tspan><tspan x="6.5" dy="16.3">是前总理朱镕基创办的。同时，那两天新闻里</tspan><tspan x="6.5" dy="16.3">有一个热点事件，就是李克强接见马云，称赞</tspan><tspan x="6.5" dy="16.3">他创造了一个消费热点。因为之前我们一直做</tspan><tspan x="6.5" dy="16.3">媒体，对这种事比较敏感，就瞬间想起了之前</tspan><tspan x="6.5" dy="16.3">温总理也去过阿里，称赞过马云。</tspan></text></g>
<g id="n-r2c2" class="nr" transform="translate(2239.5,3280.4)"><rect width="265.7" height="126.7" rx="5"/><text x="6.5" y="19"><tspan x="6.5">于是，我们马上做了一个策划，主题是“为何</tspan><tspan x="6.5" dy="16.3">三任总理都给了马云好评”。做出来之后效果</tspan><tspan x="6.5" dy="16.3">很好，阿里的公关就找到我们，大家都知道阿</tspan><tspan x="6.5" dy="16.3">里的公关是业界公认比较牛的。他们告诉我们</tspan><tspan x="6.5" dy="16.3">，马云很快就看到这个策划，也非常感谢我们</tspan><tspan x="6.5" dy="16.3">，这是2013年我们曾经做过的一个比较经典</tspan><tspan x="6.5" dy="16.3">的案例。</tspan></text></g>
</g>
</svg>
